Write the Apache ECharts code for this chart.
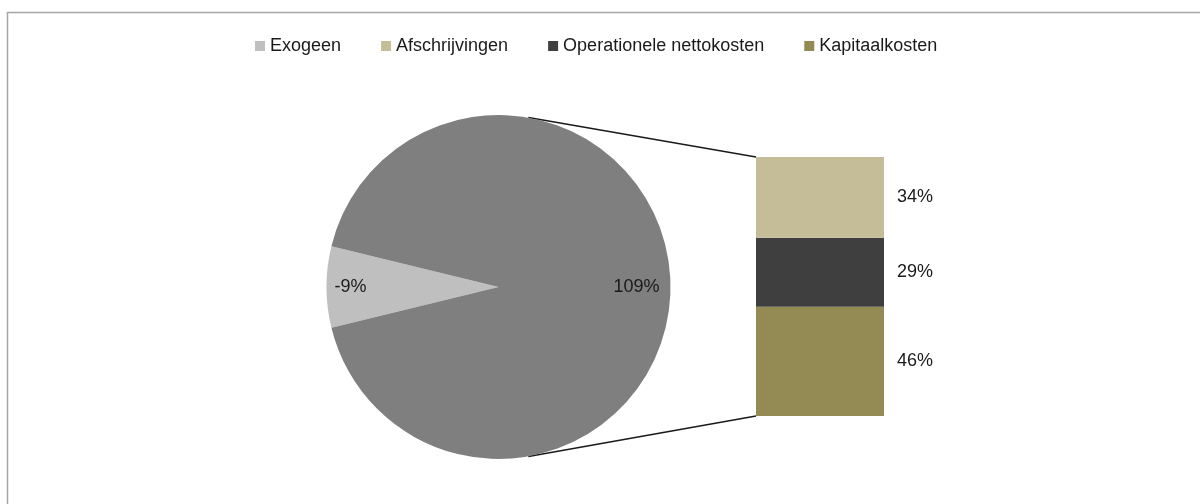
<!DOCTYPE html>
<html>
<head>
<meta charset="utf-8">
<script src="https://cdn.jsdelivr.net/npm/echarts@6/dist/echarts.min.js"></script>
<style>
  html, body { margin: 0; padding: 0; background: #fff; }
  #chart { width: 1200px; height: 504px; }
</style>
</head>
<body>
<div id="chart"></div>
<script>
// Pie: exogenous part vs. the rest (the rest is split out in the bar)
var pieNames = ['Exogeen', 'Overig'];
var pieValues = [-9, 109];

// Bar: breakdown of the 109% slice, top to bottom
var barNames = ['Afschrijvingen', 'Operationele nettokosten', 'Kapitaalkosten'];
var barValues = [34, 29, 46];

var pieColors = ['#bfbfbf', '#7f7f7f'];
var barColors = ['#c4bd97', '#3f3f3f', '#948a54'];

var chart = echarts.init(document.getElementById('chart'));

var FONT = '"Liberation Sans", Arial, sans-serif';
var pieCenter = [498.5, 287];
var pieRadius = 172;
var barGrid = { left: 756, top: 157, width: 128, height: 259 };

// Excel pies use absolute values for negatives
var absTotal = 0;
pieValues.forEach(function (v) { absTotal += Math.abs(v); });
var firstAngle = Math.abs(pieValues[0]) / absTotal * 360;
var labelOffsets = [[-59, 0], [49, 0]];

var pieData = pieNames.map(function (n, i) {
    return {
        name: n,
        value: Math.abs(pieValues[i]),
        raw: pieValues[i],
        itemStyle: { color: pieColors[i] },
        label: { offset: labelOffsets[i] }
    };
});

var barTotal = 0;
barValues.forEach(function (v) { barTotal += v; });

var series = [{
    type: 'pie',
    center: pieCenter,
    radius: pieRadius,
    startAngle: 180 + firstAngle / 2,
    clockwise: true,
    silent: true,
    animation: false,
    data: pieData,
    itemStyle: { borderWidth: 0 },
    label: {
        show: true,
        position: 'inside',
        color: '#1a1a1a',
        fontFamily: FONT,
        fontSize: 18,
        formatter: function (p) { return p.data.raw + '%'; }
    },
    labelLine: { show: false }
}];

// first series sits at the bottom of the stack, so go bottom-up
for (var i = barNames.length - 1; i >= 0; i--) {
    series.push({
        name: barNames[i],
        type: 'bar',
        stack: 'rest',
        barWidth: '100%',
        animation: false,
        silent: true,
        data: [barValues[i]],
        itemStyle: { color: barColors[i] },
        label: {
            show: true,
            position: 'right',
            distance: 13,
            color: '#1a1a1a',
            fontFamily: FONT,
            fontSize: 18,
            formatter: '{c}%'
        }
    });
}

chart.setOption({
    backgroundColor: '#fff',
    legend: {
        data: [pieNames[0]].concat(barNames),
        top: 32,
        left: 250,
        icon: 'rect',
        itemWidth: 10,
        itemHeight: 10,
        itemGap: 40,
        textStyle: { color: '#1a1a1a', fontFamily: FONT, fontSize: 18 }
    },
    grid: barGrid,
    xAxis: { type: 'category', data: [''], show: false },
    yAxis: { type: 'value', min: 0, max: barTotal, show: false },
    series: series
});

// outer border and connector lines, derived from pie and bar geometry
var tilt = 10 * Math.PI / 180;
var pTop = [pieCenter[0] + pieRadius * Math.sin(tilt), pieCenter[1] - pieRadius * Math.cos(tilt)];
var pBot = [pieCenter[0] + pieRadius * Math.sin(tilt), pieCenter[1] + pieRadius * Math.cos(tilt)];
var barTopLeft = chart.convertToPixel({ gridIndex: 0 }, [0, barTotal]);
var barBotLeft = chart.convertToPixel({ gridIndex: 0 }, [0, 0]);
var bx = barGrid.left;

chart.setOption({
    graphic: [
        {
            type: 'rect', silent: true,
            shape: { x: 7.5, y: 12.5, width: 1300, height: 600 },
            style: { fill: 'none', stroke: '#a6a6a6', lineWidth: 1.5 }
        },
        {
            type: 'line', silent: true,
            shape: { x1: pTop[0], y1: pTop[1], x2: bx, y2: barTopLeft[1] },
            style: { stroke: '#1a1a1a', lineWidth: 1.5 }
        },
        {
            type: 'line', silent: true,
            shape: { x1: pBot[0], y1: pBot[1], x2: bx, y2: barBotLeft[1] },
            style: { stroke: '#1a1a1a', lineWidth: 1.5 }
        }
    ]
});
</script>
</body>
</html>
